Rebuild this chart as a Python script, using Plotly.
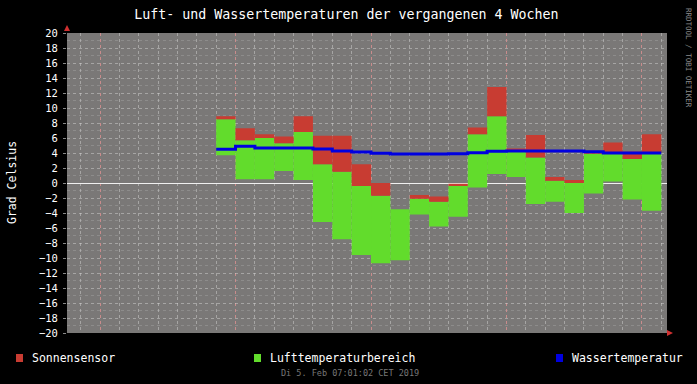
import plotly.graph_objects as go

# ---- data (days counted from Monday of Week 02, 00:00 local) ----
day_start = list(range(6, 29))  # one bar per day
air_min = [3.7, 0.5, 0.5, 1.6, 0.4, -5.2, -7.5, -9.6, -10.7, -10.3, -4.2, -5.8,
           -4.5, -0.6, 1.2, 0.8, -2.8, -2.5, -4.0, -1.4, 0.2, -2.2, -3.7]
air_max = [8.5, 5.7, 6.0, 5.3, 6.8, 2.5, 1.5, -0.4, -1.7, -3.5, -2.1, -2.5,
           -0.4, 6.5, 8.9, 4.3, 3.4, 0.3, 0.0, 3.9, 4.0, 3.2, 4.0]
sun_max = [8.9, 7.3, 6.5, 6.2, 8.9, 6.3, 6.3, 2.5, 0.0, -3.5, -1.6, -1.8,
           -0.1, 7.4, 12.8, 4.6, 6.4, 0.8, 0.4, 4.3, 5.4, 4.2, 6.5]
water = [4.5, 4.9, 4.67, 4.67, 4.67, 4.53, 4.27, 4.13, 3.96, 3.87, 3.87, 3.87,
         3.9, 4.04, 4.22, 4.27, 4.27, 4.27, 4.27, 4.18, 4.0, 4.0, 4.0]

week_mondays = [0, 7, 14, 21, 28]
week_label_pos = [3.5, 10.5, 17.5, 24.5]
week_labels = ["Week 02", "Week 03", "Week 04", "Week 05"]

x_range = [-1.707, 29.293]
y_range = [-20, 20]

RED = "#c83c32"
GREEN = "#62dc2c"
BLUE = "#0000e0"
CANVAS = "#7a7877"
MONO = "DejaVu Sans Mono"

W, H = 697, 384
L, R, T, B = 67, 30, 33, 51
PW, PH = W - L - R, H - T - B


def px(xp):
    return (xp - L) / PW


def py(yp):
    return (H - B - yp) / PH


centers = [d + 0.5 for d in day_start]

fig = go.Figure()
fig.add_trace(go.Bar(x=centers, base=air_min,
                     y=[a - b for a, b in zip(air_max, air_min)],
                     width=1, marker=dict(color=GREEN, line=dict(width=0)),
                     name="Lufttemperaturbereich", showlegend=False))
fig.add_trace(go.Bar(x=centers, base=air_max,
                     y=[s - a for s, a in zip(sun_max, air_max)],
                     width=1, marker=dict(color=RED, line=dict(width=0)),
                     name="Sonnensensor", showlegend=False))
fig.add_trace(go.Scatter(x=day_start + [day_start[-1] + 1], y=water + [water[-1]],
                         mode="lines", line=dict(color=BLUE, width=3, shape="hv"),
                         name="Wassertemperatur", showlegend=False))

fig.update_layout(
    width=W, height=H,
    margin=dict(l=L, r=R, t=T, b=B),
    paper_bgcolor="black", plot_bgcolor=CANVAS,
    barmode="overlay",
    font=dict(family=MONO, color="white"),
    title=dict(text="Luft- und Wassertemperaturen der vergangenen 4 Wochen",
               x=0.497, xref="container", xanchor="center",
               y=1 - 14 / H, yref="container", yanchor="middle",
               font=dict(family=MONO, size=13.3, color="white")),
    xaxis=dict(range=x_range, tickvals=week_mondays, showticklabels=False,
               ticks="", showgrid=True, gridcolor="rgba(230,120,120,0.55)",
               griddash="dot", gridwidth=1, zeroline=False, showline=False,
               minor=dict(dtick=1, tick0=0, showgrid=True,
                          gridcolor="rgba(220,220,220,0.45)", griddash="dot")),
    xaxis2=dict(range=x_range, overlaying="x", anchor="y", side="bottom",
                tickvals=week_label_pos, ticktext=week_labels, showgrid=False,
                zeroline=False, ticks="", tickfont=dict(family=MONO, size=10.5, color="white")),
    yaxis=dict(range=y_range, dtick=2, tick0=0, showgrid=True,
               gridcolor="rgba(220,220,220,0.45)", griddash="dot",
               zeroline=True, zerolinecolor="#f0f0f0", zerolinewidth=1,
               ticks="outside", ticklen=3, tickcolor="#888",
               ticklabelstandoff=3,
               tickfont=dict(family=MONO, size=10.5, color="white"),
               minor=dict(dtick=1, showgrid=True,
                          gridcolor="rgba(200,200,200,0.25)", griddash="dot")),
)

anns = []
anns.append(dict(text="Grad Celsius", x=px(12), y=py(183), xref="paper", yref="paper",
                 textangle=-90, showarrow=False, xanchor="center", yanchor="middle",
                 font=dict(family=MONO, size=11.5, color="white")))
legend_items = [("Sonnensensor", RED, 16, 30),
                ("Lufttemperaturbereich", GREEN, 254, 268),
                ("Wassertemperatur", BLUE, 556, 570)]
shapes = []
for text, col, sx, tx in legend_items:
    anns.append(dict(text=text, x=px(tx), y=py(358), xref="paper", yref="paper",
                     showarrow=False, xanchor="left", yanchor="middle",
                     font=dict(family=MONO, size=11.5, color="white")))
    shapes.append(dict(type="rect", xref="paper", yref="paper",
                       x0=px(sx), x1=px(sx + 7), y0=py(362), y1=py(354),
                       fillcolor=col, line=dict(width=0)))
anns.append(dict(text="Di 5. Feb 07:01:02 CET 2019", x=px(350), y=py(373),
                 xref="paper", yref="paper", showarrow=False,
                 xanchor="center", yanchor="middle",
                 font=dict(family=MONO, size=8.5, color="#777777")))
anns.append(dict(text="RRDTOOL / TOBI OETIKER", x=px(688), y=py(6), xref="paper",
                 yref="paper", showarrow=False, textangle=90,
                 xanchor="center", yanchor="top",
                 font=dict(family=MONO, size=7.5, color="#8a8a8a")))

# axis arrows
shapes.append(dict(type="path", xref="paper", yref="paper",
                   path=f"M {px(64)},{py(31)} L {px(70)},{py(31)} L {px(67)},{py(25)} Z",
                   fillcolor="#d03030", line=dict(width=0)))
shapes.append(dict(type="path", xref="paper", yref="paper",
                   path=f"M {px(667)},{py(330)} L {px(667)},{py(336)} L {px(673)},{py(333)} Z",
                   fillcolor="#d03030", line=dict(width=0)))
fig.update_layout(annotations=anns, shapes=shapes)

fig.write_html("out.html",
               config={"displayModeBar": False},
               post_script="document.body.style.margin='0';document.body.style.padding='0';"
                           "document.body.style.background='black';")
